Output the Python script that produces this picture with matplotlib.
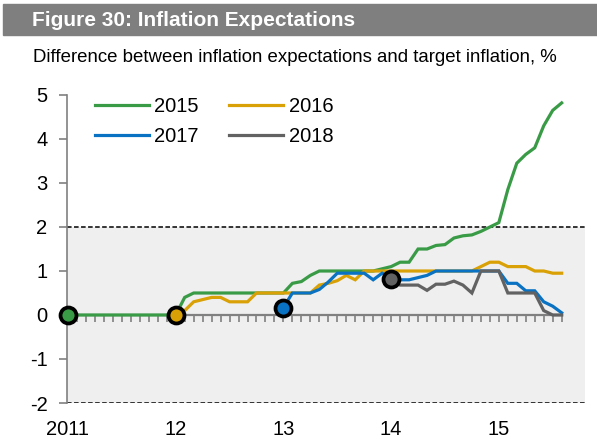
import numpy as np
import matplotlib
matplotlib.use("Agg")
import matplotlib.pyplot as plt
from matplotlib.patches import Rectangle

plt.rcParams['font.family'] = ['Liberation Sans', 'DejaVu Sans']

# monthly values, month 0 = Jan 2011
labels = ["2015", "2016", "2017", "2018"]
starts = [0, 12, 24, 36]
colors = ["#3A9B47", "#D9A106", "#0A72C2", "#626262"]

exp_2015 = [0, 0, 0, 0, 0, 0, 0, 0, 0, 0, 0, 0, 0,
            0.4, 0.5, 0.5, 0.5, 0.5, 0.5, 0.5, 0.5, 0.5, 0.5, 0.5, 0.5,
            0.72, 0.76, 0.9, 1.0, 1.0, 1.0, 1.0, 1.0, 1.0, 1.0,
            1.05, 1.1, 1.2, 1.2, 1.5, 1.5, 1.58, 1.6, 1.75, 1.8, 1.82, 1.9,
            2.0, 2.1, 2.85, 3.45, 3.65, 3.8, 4.3, 4.65, 4.82]
exp_2016 = [0, 0.1, 0.3, 0.35, 0.4, 0.4, 0.3, 0.3, 0.3, 0.5, 0.5, 0.5,
            0.5, 0.5, 0.5, 0.5, 0.68, 0.72, 0.78, 0.9, 0.8, 1.0,
            1.0, 1.0, 1.0, 1.0, 1.0, 1.0, 1.0, 1.0, 1.0, 1.0, 1.0, 1.0,
            1.1, 1.2, 1.2, 1.1, 1.1, 1.1, 1.0, 1.0, 0.95, 0.95]
exp_2017 = [0.17, 0.5, 0.5, 0.5, 0.58, 0.75, 0.95, 0.95, 0.95, 0.95, 0.8, 0.95,
            0.85, 0.8, 0.8, 0.85, 0.9, 1.0, 1.0, 1.0, 1.0, 1.0, 1.0, 1.0,
            1.0, 0.72, 0.72, 0.55, 0.55, 0.3, 0.2, 0.05]
exp_2018 = [0.82, 0.68, 0.68, 0.68, 0.56, 0.7, 0.7, 0.77, 0.68, 0.5,
            1.0, 1.0, 1.0, 0.5, 0.5, 0.5, 0.5, 0.1, 0.0, 0.0]
series = [exp_2015, exp_2016, exp_2017, exp_2018]

year_ticks = [2011, 2012, 2013, 2014, 2015]
year_labels = ["2011", "12", "13", "14", "15"]
n_months = 56

fig = plt.figure(figsize=(5.97, 4.48), dpi=100)
W, H = 597, 448

# header band
fig.patches.append(Rectangle((3 / W, 1 - 35 / H), 1, 31 / H, transform=fig.transFigure,
                             color="#7F7F7F", zorder=0))
fig.text(32 / W, 1 - 20.5 / H, "Figure 30: Inflation Expectations", color="white",
         fontsize=15, fontweight="bold", va="center", ha="left")
fig.text(33 / W, 1 - 57 / H, "Difference between inflation expectations and target inflation, %",
         color="black", fontsize=13.4, va="center", ha="left")

ax = fig.add_axes([67 / W, 1 - 403 / H, (585 - 67) / W, (403 - 95) / H])
ax.set_xlim(2011 - 1 / 108, 2015.8)
ax.set_ylim(-2, 5)

ax.axhspan(-2, 2, color="#EFEFEF", zorder=0, lw=0)
ax.axhline(2, color="black", lw=1.1, ls=(0, (3, 1.6)), zorder=1)
ax.axhline(-2, color="black", lw=1.1, ls=(0, (3, 1.6)), zorder=1)

handles = []
for vals, start, col, lab in zip(series, starts, colors, labels):
    x = 2011 + (start + np.arange(len(vals))) / 12
    line, = ax.plot(x, vals, color=col, lw=2.3, label=lab, zorder=3, solid_joinstyle="miter")
    handles.append(line)
for vals, start, col in zip(series, starts, colors):
    ax.plot(2011 + start / 12, vals[0], "o", ms=11.5, mfc=col, mec="black", mew=2.7,
            zorder=5, clip_on=False)

for s in ["top", "right", "bottom"]:
    ax.spines[s].set_visible(False)
ax.spines["left"].set_color("#808080")
ax.spines["left"].set_linewidth(1.2)
ax.set_yticks(range(-2, 6))
ax.set_yticklabels([str(v) for v in range(-2, 6)])
ax.tick_params(axis="y", direction="out", length=6, width=1.2, color="#808080",
               labelsize=14.5, pad=8)
ax.set_xticks(year_ticks)
ax.set_xticklabels(year_labels)
ax.tick_params(axis="x", length=0, labelsize=14.5, pad=12)

# zero line with monthly ticks
sec = ax.secondary_xaxis(2 / 7)
sec.spines["bottom"].set_color("#808080")
sec.spines["bottom"].set_linewidth(1.6)
sec.spines["bottom"].set_bounds(2011, 2011 + (n_months - 1) / 12)
sec.set_xticks(2011 + np.arange(n_months) / 12)
sec.set_xticklabels([])
sec.tick_params(axis="x", direction="out", length=5, width=1.2, color="#808080")

# legend filled row by row: 2015 2016 / 2017 2018
order = [0, 2, 1, 3]
ax.legend([handles[i] for i in order], [labels[i] for i in order],
          loc="upper left", bbox_to_anchor=(95 / W, 1 - 97 / H), bbox_transform=fig.transFigure,
          ncol=2, frameon=False, fontsize=14.5, handlelength=2.7, handletextpad=0.25,
          columnspacing=1.5, labelspacing=0.55, borderpad=0, borderaxespad=0)

fig.savefig("out.png", dpi=100)
